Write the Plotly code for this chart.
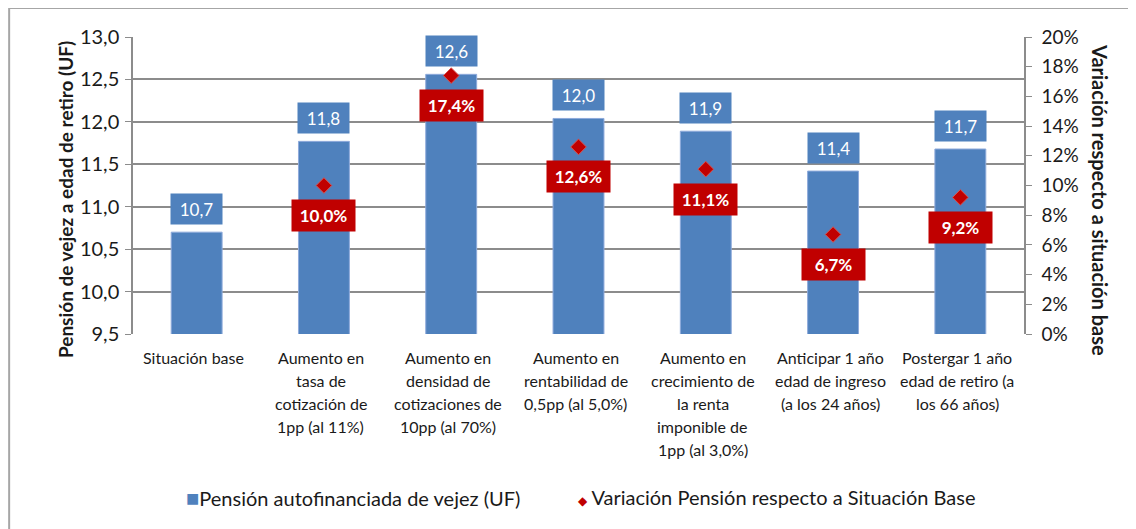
"""Pensión de vejez: bars (UF) plus variation vs base (%), Plotly version."""

import plotly.graph_objects as go

# data
categorias = [
    "Situación base",
    "Aumento en<br>tasa de<br>cotización de<br>1pp (al 11%)",
    "Aumento en<br>densidad de<br>cotizaciones de<br>10pp (al 70%)",
    "Aumento en<br>rentabilidad de<br>0,5pp (al 5,0%)",
    "Aumento en<br>crecimiento de<br>la renta<br>imponible de<br>1pp (al 3,0%)",
    "Anticipar 1 año<br>edad de ingreso<br>(a los 24 años)",
    "Postergar 1 año<br>edad de retiro (a<br>los 66 años)",
]
pension_uf = [10.70, 11.77, 12.56, 12.04, 11.89, 11.42, 11.68]
variacion = [None, 0.100, 0.174, 0.126, 0.111, 0.067, 0.092]

FONT = "Lato, 'Open Sans', sans-serif"
AZUL = "#4F81BD"
ROJO = "#C00000"
GRIS = "#8C8C8C"
TXT = "#1a1a1a"

cat_ids = list(range(len(categorias)))

fig = go.Figure()

fig.add_trace(go.Bar(
    x=cat_ids,
    y=pension_uf,
    name="Pensión autofinanciada de vejez (UF)",
    marker=dict(color=AZUL, line=dict(color="#8EAADB", width=1)),
    width=0.4,
    showlegend=False,
))

fig.add_trace(go.Scatter(
    x=cat_ids,
    y=variacion,
    name="Variación Pensión respecto a Situación Base",
    mode="markers",
    marker=dict(symbol="diamond", size=12, color=ROJO,
                line=dict(color="#D9534F", width=1)),
    yaxis="y2",
    showlegend=False,
))

# data labels: blue boxes above bars, red boxes below diamonds
for i, v in enumerate(pension_uf):
    fig.add_annotation(
        x=i, y=v, yref="y", yshift=23, showarrow=False,
        text=f"{v:.1f}".replace(".", ","),
        font=dict(family=FONT, size=17, color="white"),
        bgcolor=AZUL, width=45, height=24, borderpad=3,
    )
for i, p in enumerate(variacion):
    if p is None:
        continue
    fig.add_annotation(
        x=i, y=p, yref="y2", yshift=-30, showarrow=False,
        text="<b>" + f"{p*100:.1f}%".replace(".", ",") + "</b>",
        font=dict(family=FONT, size=17, color="white"),
        bgcolor=ROJO, width=57, height=25, borderpad=3,
    )

# category labels, one annotation per line to get Excel-like spacing
for i, lab in enumerate(categorias):
    for k, linea in enumerate(lab.split("<br>")):
        fig.add_annotation(
            x=i, y=0, yref="paper", yanchor="top", yshift=-12 - 23 * k,
            xshift=-3, showarrow=False, text=linea,
            font=dict(family=FONT, size=16, color=TXT),
        )

# axis titles as annotations so they sit where Excel puts them
fig.add_annotation(
    x=-0.0763, y=0.451, xref="paper", yref="paper", textangle=-90,
    xanchor="center", yanchor="middle",
    showarrow=False, text="<b>Pensión de vejez a edad de retiro (UF)</b>",
    font=dict(family=FONT, size=19, color=TXT),
)
fig.add_annotation(
    x=1.0853, y=0.451, xref="paper", yref="paper", textangle=90,
    xanchor="center", yanchor="middle",
    showarrow=False, text="<b>Variación respecto a situación base</b>",
    font=dict(family=FONT, size=20, color=TXT),
)

# legend drawn by hand (Excel puts the symbol right next to the text)
fig.add_annotation(
    x=0.057, xanchor="left", y=-0.549, yref="paper", xref="paper",
    yanchor="middle", showarrow=False,
    text=f"<span style='color:{AZUL};font-size:22px'>■</span>Pensión autofinanciada de vejez (UF)",
    font=dict(family=FONT, size=20, color=TXT),
)
fig.add_annotation(
    x=0.497, xanchor="left", y=-0.549, yref="paper", xref="paper",
    yanchor="middle", showarrow=False,
    text=f"<span style='color:{ROJO};font-size:12px'>◆</span> Variación Pensión respecto a Situación Base",
    font=dict(family=FONT, size=20, color=TXT),
)

# outer chart frame (left and top edges only are visible)
fig.add_shape(type="line", xref="paper", yref="paper",
              x0=-0.139, x1=-0.139, y0=1.098, y1=-0.7,
              line=dict(color="#A6A6A6", width=2))
fig.add_shape(type="line", xref="paper", yref="paper",
              x0=-0.139, x1=1.2, y0=1.098, y1=1.098,
              line=dict(color="#A6A6A6", width=2))

fig.update_layout(
    width=1136, height=529,
    margin=dict(l=125, r=120, t=29, b=203),
    plot_bgcolor="white", paper_bgcolor="white",
    separators=",.",
    font=dict(family=FONT, size=19, color=TXT),
    showlegend=False,
    bargap=0.6,
    xaxis=dict(range=[-0.5, 6.5], tickvals=cat_ids, showticklabels=False,
               showgrid=False, zeroline=False),
    yaxis=dict(
        range=[9.5, 13.0], dtick=0.5, tickformat=".1f",
        showgrid=True, gridcolor=GRIS, gridwidth=1.5,
        showline=True, linecolor=GRIS, linewidth=1.5,
        ticks="outside", ticklen=6, tickcolor=GRIS,
        zeroline=False, tickfont=dict(size=20), ticklabelstandoff=2,
    ),
    yaxis2=dict(
        overlaying="y", side="right",
        range=[0, 0.20], dtick=0.02, tickformat=".0%",
        showgrid=False, zeroline=False,
        showline=True, linecolor=GRIS, linewidth=1.5,
        ticks="outside", ticklen=6, tickcolor=GRIS, tickfont=dict(size=19),
        ticklabelstandoff=6,
    ),
)

fig.write_html("out.html")
